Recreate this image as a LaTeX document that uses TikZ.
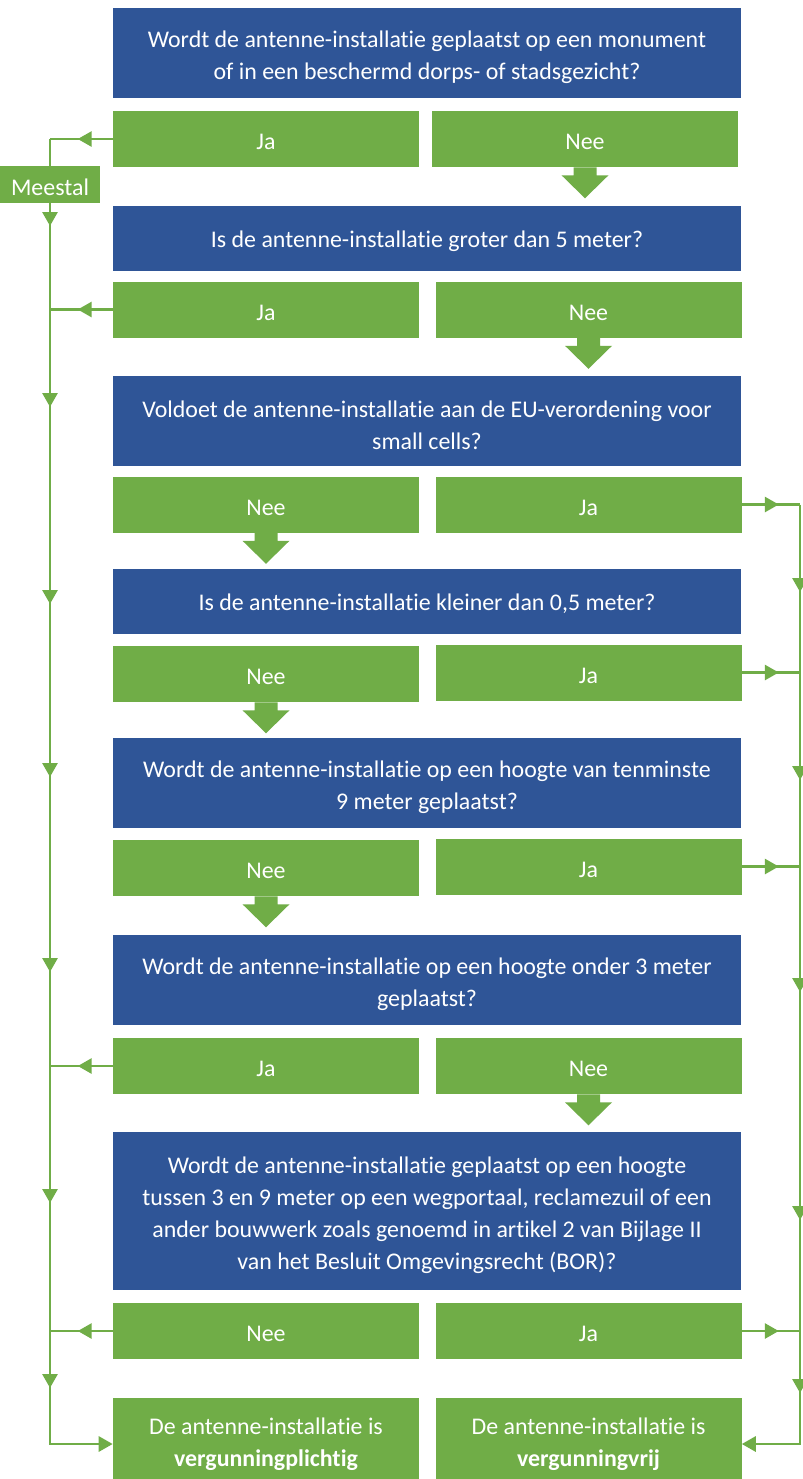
\documentclass[tikz,border=0pt]{standalone}
\usepackage{fontspec}
\setmainfont{Carlito}[Ligatures=NoCommon]
\usetikzlibrary{arrows.meta}
\definecolor{questionblue}{RGB}{47,85,151}
\definecolor{answergreen}{RGB}{112,173,71}
\newcommand{\qstrut}{\rule{0pt}{17.8pt}}
\newcommand{\nextarrow}[1]{\fill[answergreen] (#1.south) ++(-11.5,0) -- ++(0,8) -- ++(-12,0) -- ++(23.5,23) -- ++(23.5,-23) -- ++(-12,0) -- ++(0,-8) -- cycle;}

\begin{document}
\begin{tikzpicture}[x=0.25mm,y=-0.25mm,
  question/.style={fill=questionblue,text=white,minimum width=157mm,align=center,inner sep=0pt,font=\fontsize{17}{22.8}\selectfont},
  oneline/.style={text height=16.9pt,text depth=3.4pt},
  answer/.style={fill=answergreen,text=white,minimum width=76.5mm,minimum height=14mm,align=center,inner sep=0pt,font=\fontsize{17}{22.8}\selectfont},
  short/.style={text height=15.5pt,text depth=0pt},
  link/.style={answergreen,line width=2pt},
  tip/.style={-{Triangle[length=3.5mm,width=3.75mm]}}]
\useasboundingbox[fill=white] (0,0) rectangle (803,1479);
\coordinate (lrail) at (50,0);
\coordinate (rrail) at (800,0);
% Questions and answers
\node[question,minimum height=22.5mm] (q1) at (427,53) {\qstrut Wordt de antenne-installatie geplaatst op een monument\\of in een beschermd dorps- of stadsgezicht?};
\node[answer,short] (ja1) at (266,139) {Ja};
\node[answer,short] (nee1) at (585,139) {Nee};
\node[question,oneline,minimum height=16.25mm] (q2) at (427,238.5) {Is de antenne-installatie groter dan 5 meter?};
\node[answer,short] (ja2) at (266,309.5) {Ja};
\node[answer,short] (nee2) at (588.5,309.5) {Nee};
\node[question,minimum height=22.5mm] (q3) at (427,421) {\qstrut Voldoet de antenne-installatie aan de EU-verordening voor\\small cells?};
\node[answer,short] (nee3) at (266,504.5) {Nee};
\node[answer,short] (ja3) at (588.5,504.5) {Ja};
\node[question,oneline,minimum height=16.25mm] (q4) at (427,601.5) {Is de antenne-installatie kleiner dan 0,5 meter?};
\node[answer,short] (nee4) at (266,674) {Nee};
\node[answer,short] (ja4) at (588.5,672.5) {Ja};
\node[question,minimum height=22.5mm] (q5) at (427,783) {\qstrut Wordt de antenne-installatie op een hoogte van tenminste\\9 meter geplaatst?};
\node[answer,short] (nee5) at (266,868) {Nee};
\node[answer,short] (ja5) at (588.5,866.5) {Ja};
\node[question,minimum height=22.5mm] (q6) at (427,980) {\qstrut Wordt de antenne-installatie op een hoogte onder 3 meter\\geplaatst?};
\node[answer,short] (ja6) at (266,1066) {Ja};
\node[answer,short] (nee6) at (588.5,1066) {Nee};
\node[question,minimum height=39.5mm] (q7) at (427,1211) {\qstrut Wordt de antenne-installatie geplaatst op een hoogte\\tussen 3 en 9 meter op een wegportaal, reclamezuil of een\\ander bouwwerk zoals genoemd in artikel 2 van Bijlage II\\van het Besluit Omgevingsrecht (BOR)?};
\node[answer,short] (nee7) at (266,1331) {Nee};
\node[answer,short] (ja7) at (588.5,1331) {Ja};
% Outcomes
\node[answer,minimum height=23mm] (vplicht) at (266,1444) {De antenne-installatie is\\\textbf{vergunningplichtig}};
\node[answer,minimum height=23mm] (vvrij) at (588.5,1444) {De antenne-installatie is\\\textbf{vergunningvrij}};
\node[answer,short,minimum width=25mm,minimum height=9.25mm] (meestal) at (50,184.5) {Meestal};
% Block arrows to the next question
\foreach \n in {nee1,nee2,nee3,nee4,nee5,nee6} {\nextarrow{\n}}
% Left rail
\foreach \n in {ja1,ja2,ja6,nee7} {
  \draw[link,tip] (\n.west) -- ++(-35,0);
  \draw[link] (\n.west) -- (\n.west -| lrail);
}
\draw[link] (ja1.west -| lrail) -- (meestal.north);
\draw[link,tip] (meestal.south) -- (lrail |- vplicht.west) -- (vplicht.west);
\foreach \y in {226,407,604,777,972,1203,1388}
  \draw[link,tip] (50,\y-20) -- (50,\y);
% Right rail
\foreach \n in {ja3,ja4,ja5,ja7} {
  \draw[link,tip] (\n.east) -- ++(37,0);
  \draw[link] (\n.east) -- (\n.east -| rrail);
}
\draw[link,tip] (ja3.east -| rrail) -- (rrail |- vvrij.east) -- (vvrij.east);
\foreach \y in {592,780,992,1220,1393}
  \draw[link,tip] (800,\y-20) -- (800,\y);
\end{tikzpicture}
\end{document}
